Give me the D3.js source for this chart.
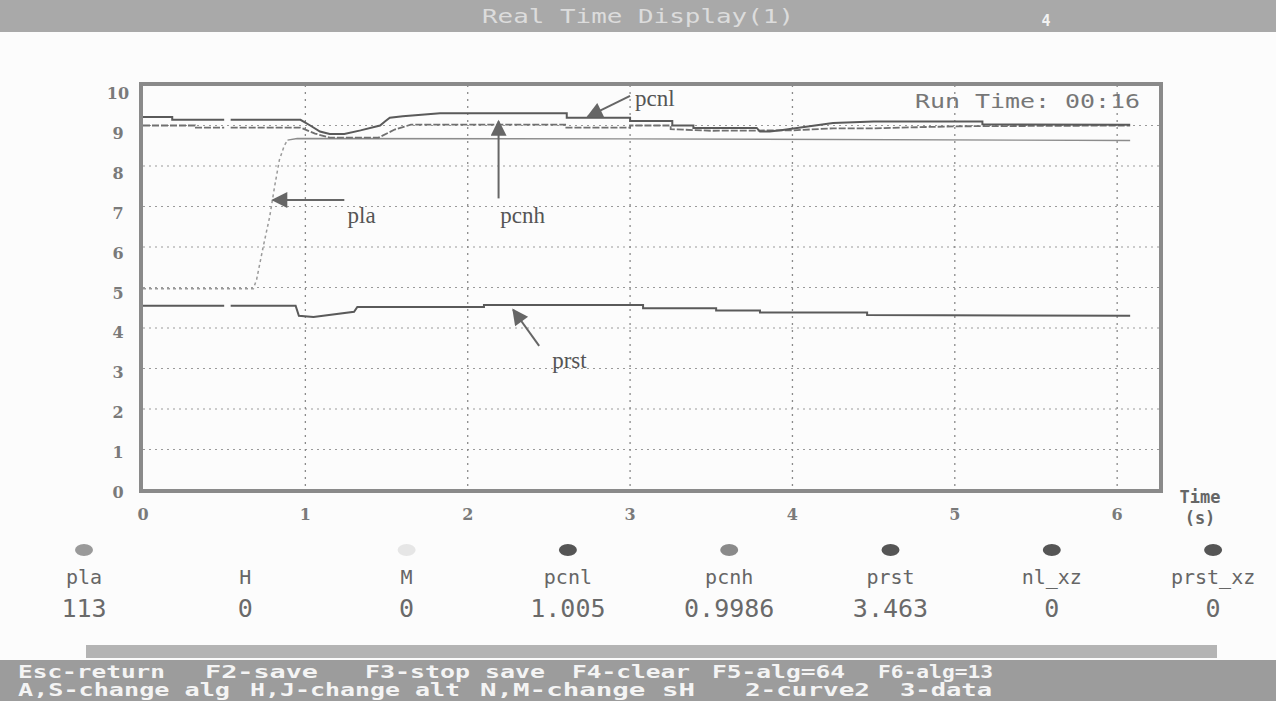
<!DOCTYPE html>
<html><head><meta charset="utf-8">
<script src="https://cdn.jsdelivr.net/npm/d3@7/dist/d3.min.js"></script>
<style>
html,body{margin:0;padding:0;background:#fcfcfc;}
svg{display:block;}
</style></head>
<body>
<svg id="c" width="1276" height="701"></svg>
<script>
// ---------- data ----------
const title = "Real Time Display(1)";
const runTime = "Run Time:  00:16";
const yTicks = [0,1,2,3,4,5,6,7,8,9,10];
const xTicks = [0,1,2,3,4,5,6];
const xMax = 6.27;

// series: [time (s), value]; null = gap in trace
const pcnl = [[0,9.21],[0.18,9.21],[0.18,9.14],[0.50,9.14],[0.51,null],[0.54,9.14],[0.97,9.14],[1.03,9.0],[1.09,8.85],[1.15,8.79],[1.24,8.79],[1.34,8.88],[1.46,9.0],[1.49,9.1],[1.52,9.19],[1.60,9.23],[1.83,9.3],[2.61,9.3],[2.61,9.19],[3.0,9.19],[3.0,9.11],[3.26,9.11],[3.26,9.0],[3.39,9.0],[3.39,8.94],[3.78,8.94],[3.80,8.85],[3.86,8.85],[3.94,8.89],[4.05,8.95],[4.25,9.06],[4.5,9.1],[5.17,9.1],[5.17,9.03],[6.08,9.02]];
const pcnh = [[0,9.0],[0.32,9.0],[0.32,8.95],[0.50,8.95],[0.51,null],[0.54,8.95],[0.97,8.95],[1.06,8.8],[1.15,8.7],[1.45,8.7],[1.55,8.9],[1.65,9.02],[2.6,9.02],[2.6,8.95],[3.0,8.95],[3.0,9.0],[3.25,9.0],[3.25,8.91],[3.5,8.87],[4.0,8.88],[4.25,8.93],[4.5,8.93],[5.0,8.98],[6.08,9.0]];
const pla = [[0,4.97],[0.68,4.97],[0.70,5.2],[0.74,6.0],[0.78,6.74],[0.81,7.48],[0.84,8.15],[0.87,8.5],[0.89,8.64],[0.95,8.68],[3.0,8.67],[6.08,8.63]];
const prst = [[0,4.55],[0.50,4.55],[0.51,null],[0.54,4.55],[0.94,4.55],[0.96,4.3],[1.05,4.27],[1.3,4.4],[1.32,4.52],[2.1,4.52],[2.1,4.57],[3.08,4.57],[3.08,4.49],[3.53,4.49],[3.53,4.43],[3.8,4.43],[3.8,4.38],[4.46,4.38],[4.46,4.32],[6.08,4.3]];

const annotations = [
  {text:"pcnl", tx:3.03, ty:9.47, from:[3.0,9.73], to:[2.74,9.22]},
  {text:"pla",  tx:1.26, ty:6.6,  from:[1.24,7.16], to:[0.80,7.16]},
  {text:"pcnh", tx:2.20, ty:6.6,  from:[2.19,7.2],  to:[2.19,9.1]},
  {text:"prst", tx:2.52, ty:3.02, from:[2.44,3.56], to:[2.28,4.45]}
];

const chNames  = ["pla","H","M","pcnl","pcnh","prst","nl_xz","prst_xz"];
const chValues = ["113","0","0","1.005","0.9986","3.463","0","0"];
const chDots   = ["#9a9a9a",null,"#e6e6e6","#555","#8a8a8a","#555","#555","#555"];

const keys1 = [["Esc-return",18,147],["F2-save",205,113],["F3-stop save",365,180],["F4-clear",572,118],["F5-alg=64",712,133],["F6-alg=13",878,115]];
const keys2 = [["A,S-change alg",18,212],["H,J-change alt",250,210],["N,M-change sH",480,215],["2-curve2",745,125],["3-data",900,92]];

// ---------- drawing ----------
const svg = d3.select("#c");
const x = d3.scaleLinear().domain([0,xMax]).range([143,1161]);
const y = d3.scaleLinear().domain([0,10]).range([490,85]);

// title bar
svg.append("rect").attr("x",0).attr("y",0).attr("width",1276).attr("height",32).attr("fill","#a9a9a9");
svg.append("text").attr("x",638).attr("y",23).attr("text-anchor","middle")
  .attr("font-family","DejaVu Sans Mono").attr("font-size",19).attr("fill","#dcdcdc")
  .attr("textLength",312).attr("lengthAdjust","spacingAndGlyphs").text(title);
svg.append("text").attr("x",1046).attr("y",26).attr("text-anchor","middle")
  .attr("font-family","DejaVu Sans Mono").attr("font-size",15).attr("font-weight","bold").attr("fill","#f2f2f2").text("4");

// run time
svg.append("text").attr("x",915).attr("y",108)
  .attr("font-family","DejaVu Sans Mono").attr("font-size",19).attr("fill","#777")
  .attr("textLength",225).attr("lengthAdjust","spacingAndGlyphs").text(runTime);

// grid
const g = svg.append("g");
g.selectAll("line.hg").data(yTicks.filter(v=>v>0&&v<10)).join("line")
  .attr("x1",x(0)).attr("x2",x(xMax)).attr("y1",d=>y(d)).attr("y2",d=>y(d))
  .attr("stroke","#9a9a9a").attr("stroke-width",1.2).attr("stroke-dasharray","2,4");
g.selectAll("line.vg").data(xTicks.filter(v=>v>0)).join("line")
  .attr("x1",d=>x(d)).attr("x2",d=>x(d)).attr("y1",y(10)).attr("y2",y(0))
  .attr("stroke","#8a8a8a").attr("stroke-width",1.3).attr("stroke-dasharray","2,5");

// series
const line = d3.line().defined(d=>d[1]!==null).x(d=>x(d[0])).y(d=>y(d[1]));
svg.append("path").datum(pla.filter(d=>d[0]<=0.9)).attr("d",line).attr("fill","none").attr("stroke","#9a9a9a").attr("stroke-width",1.5).attr("stroke-dasharray","3,3");
svg.append("path").datum(pla.filter(d=>d[0]>=0.89)).attr("d",line).attr("fill","none").attr("stroke","#8c8c8c").attr("stroke-width",1.4);
svg.append("path").datum(pcnh).attr("d",line).attr("fill","none").attr("stroke","#707070").attr("stroke-width",1.8).attr("stroke-dasharray","7,2");
svg.append("path").datum(pcnl).attr("d",line).attr("fill","none").attr("stroke","#5a5a5a").attr("stroke-width",2);
svg.append("path").datum(prst).attr("d",line).attr("fill","none").attr("stroke","#5a5a5a").attr("stroke-width",2);

// frame
svg.append("rect").attr("x",x(0)-2).attr("y",y(10)-1).attr("width",x(xMax)-x(0)+2).attr("height",y(0)-y(10)+2)
  .attr("fill","none").attr("stroke","#8a8a8a").attr("stroke-width",4);

// axis labels
const axFont = "DejaVu Serif";
svg.selectAll("text.yl").data(yTicks).join("text")
  .attr("x",118).attr("y",d=>y(d)+8 + d*0.6).attr("text-anchor","middle")
  .attr("font-family",axFont).attr("font-size",16).attr("font-weight","bold").attr("fill","#7a7a7a").text(d=>d);
svg.selectAll("text.xl").data(xTicks).join("text")
  .attr("x",d=>x(d)).attr("y",520).attr("text-anchor","middle")
  .attr("font-family",axFont).attr("font-size",16).attr("font-weight","bold").attr("fill","#7a7a7a").text(d=>d);
svg.append("text").attr("x",1200).attr("y",503).attr("text-anchor","middle")
  .attr("font-family","DejaVu Sans Mono").attr("font-size",17).attr("font-weight","bold").attr("fill","#666").text("Time");
svg.append("text").attr("x",1200).attr("y",524).attr("text-anchor","middle")
  .attr("font-family","DejaVu Sans Mono").attr("font-size",17).attr("font-weight","bold").attr("fill","#666").text("(s)");

// annotations
const defs = svg.append("defs");
defs.append("marker").attr("id","ah").attr("viewBox","0 0 10 10").attr("refX",9).attr("refY",5)
  .attr("markerWidth",20).attr("markerHeight",16).attr("markerUnits","userSpaceOnUse")
  .attr("orient","auto").append("path").attr("d","M0,0 L10,5 L0,10 Z").attr("fill","#666");
const an = svg.append("g");
an.selectAll("line").data(annotations).join("line")
  .attr("x1",d=>x(d.from[0])).attr("y1",d=>y(d.from[1]))
  .attr("x2",d=>x(d.to[0])).attr("y2",d=>y(d.to[1]))
  .attr("stroke","#666").attr("stroke-width",2).attr("marker-end","url(#ah)");
an.selectAll("text").data(annotations).join("text")
  .attr("x",d=>x(d.tx)).attr("y",d=>y(d.ty))
  .attr("font-family","Liberation Serif").attr("font-size",23).attr("fill","#555").text(d=>d.text);

// channel readouts
const cx = i => 84 + i*161.3;
svg.selectAll("ellipse.dot").data(chDots.map((c,i)=>({c,i})).filter(d=>d.c)).join("ellipse")
  .attr("cx",d=>cx(d.i)).attr("cy",550).attr("rx",9).attr("ry",6).attr("fill",d=>d.c);
svg.selectAll("text.cn").data(chNames).join("text")
  .attr("x",(d,i)=>cx(i)).attr("y",584).attr("text-anchor","middle")
  .attr("font-family","DejaVu Sans Mono").attr("font-size",20).attr("fill","#666").text(d=>d);
svg.selectAll("text.cv").data(chValues).join("text")
  .attr("x",(d,i)=>cx(i)).attr("y",617).attr("text-anchor","middle")
  .attr("font-family","DejaVu Sans Mono").attr("font-size",25).attr("fill","#6a6a6a").text(d=>d);

// bottom bars
svg.append("rect").attr("x",86).attr("y",645).attr("width",1131).attr("height",13).attr("fill","#b4b4b4");
svg.append("rect").attr("x",0).attr("y",660).attr("width",1276).attr("height",41).attr("fill","#9c9c9c");
function keyRow(data, yy){
  svg.selectAll(null).data(data).join("text")
    .attr("x",d=>d[1]).attr("y",yy)
    .attr("font-family","DejaVu Sans Mono").attr("font-size",17).attr("font-weight","bold").attr("fill","#f4f4f4")
    .attr("textLength",d=>d[2]).attr("lengthAdjust","spacingAndGlyphs").text(d=>d[0]);
}
keyRow(keys1, 678);
keyRow(keys2, 696);
</script>
</body></html>
